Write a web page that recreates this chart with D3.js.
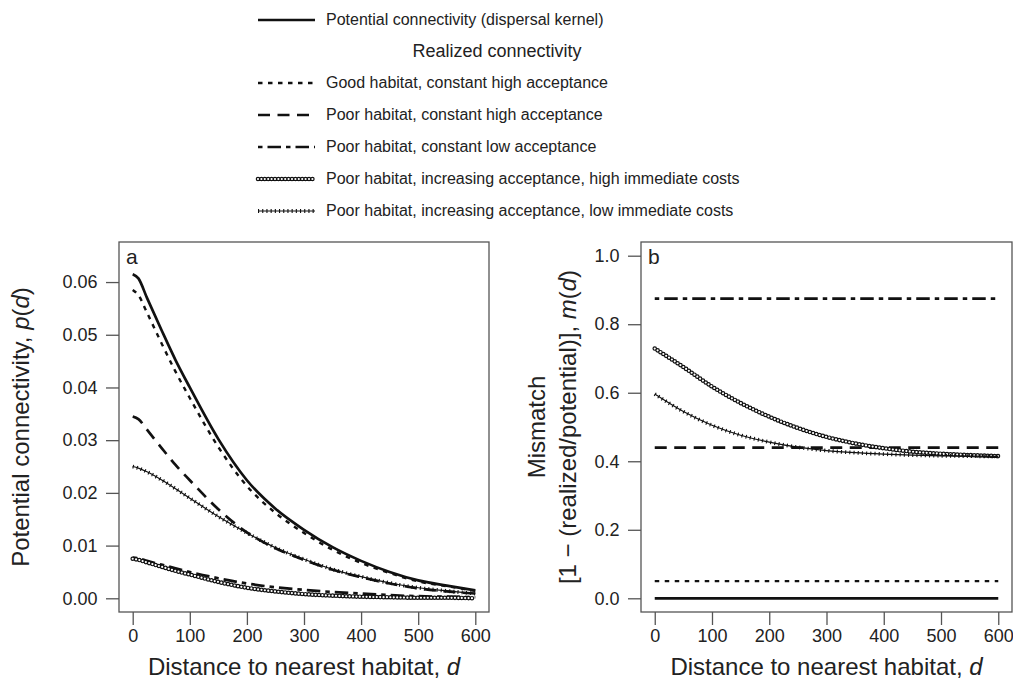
<!DOCTYPE html>
<html>
<head>
<meta charset="utf-8">
<script src="https://cdn.jsdelivr.net/npm/d3@7"></script>
<style>
  body { margin: 0; background: #fff; }
  svg { display: block; font-family: "Liberation Sans", Arial, sans-serif; }
</style>
</head>
<body>
<div id="chart"></div>
<script>
(() => {

// Panel a: connectivity vs distance
const distA = [0, 10, 25, 50, 75, 100, 150, 200, 250, 300, 350, 400, 450, 500, 550, 600];
const potentialA   = [0.0615, 0.0607, 0.0570, 0.0510, 0.0452, 0.0400, 0.0302, 0.0224, 0.0170, 0.0130, 0.0097, 0.0071, 0.0050, 0.0034, 0.0024, 0.0015];
const goodHighA    = [0.0585, 0.0575, 0.0542, 0.0485, 0.0430, 0.0380, 0.0287, 0.0213, 0.0162, 0.0124, 0.0092, 0.0067, 0.0048, 0.0032, 0.0023, 0.0014];
const poorHighA    = [0.0345, 0.0340, 0.0320, 0.0286, 0.0253, 0.0224, 0.0169, 0.0125, 0.0095, 0.0073, 0.0054, 0.0040, 0.0028, 0.0019, 0.0013, 0.0009];
const poorLowA     = [0.0077, 0.0076, 0.0071, 0.0064, 0.0057, 0.0050, 0.0038, 0.0028, 0.0021, 0.0016, 0.0012, 0.0009, 0.0006, 0.0004, 0.0003, 0.0002];
const incHighCostA = [0.0075, 0.0073, 0.0068, 0.0060, 0.0052, 0.0045, 0.0031, 0.0020, 0.0013, 0.0008, 0.0005, 0.0003, 0.0002, 0.0001, 0.0001, 0.0000];
const incLowCostA  = [0.0250, 0.0247, 0.0240, 0.0225, 0.0208, 0.0190, 0.0155, 0.0124, 0.0096, 0.0074, 0.0055, 0.0041, 0.0029, 0.0020, 0.0014, 0.0009];

// Panel b: mismatch vs distance
const distB = [0, 50, 100, 150, 200, 250, 300, 350, 400, 450, 500, 550, 600];
const incHighCostB = [0.729, 0.675, 0.618, 0.570, 0.530, 0.497, 0.471, 0.452, 0.438, 0.428, 0.422, 0.418, 0.415];
const incLowCostB  = [0.596, 0.545, 0.505, 0.476, 0.456, 0.441, 0.431, 0.425, 0.421, 0.418, 0.416, 0.415, 0.414];
const distFlat = [0, 600];
const potentialB = [0, 0];
const goodHighB  = [0.05, 0.05];
const poorHighB  = [0.44, 0.44];
const poorLowB   = [0.875, 0.875];

// ticks
const xTicks = [0, 100, 200, 300, 400, 500, 600];
const yTicksA = [0, 0.01, 0.02, 0.03, 0.04, 0.05, 0.06];
const yTicksB = [0, 0.2, 0.4, 0.6, 0.8, 1.0];

// legend
const legendLabels = [
  "Potential connectivity (dispersal kernel)",
  "Good habitat, constant high acceptance",
  "Poor habitat, constant high acceptance",
  "Poor habitat, constant low acceptance",
  "Poor habitat, increasing acceptance, high immediate costs",
  "Poor habitat, increasing acceptance, low immediate costs"
];
const legendStyles = ["solid", "dotted", "dashed", "dotdash", "rings", "plus"];

const ink = "#111";

const svg = d3.select("#chart")
  .append("svg")
  .attr("width", 1013)
  .attr("height", 681);

// draw one path string in one of the R-like line styles
function drawStyled(g, dstr, style) {
  if (style === "rings") {
    g.append("path").attr("d", dstr).attr("fill", "none")
      .attr("stroke", ink).attr("stroke-width", 4.6)
      .attr("stroke-linecap", "round").attr("stroke-dasharray", "0 3.4");
    g.append("path").attr("d", dstr).attr("fill", "none")
      .attr("stroke", "#fff").attr("stroke-width", 2.2)
      .attr("stroke-linecap", "round").attr("stroke-dasharray", "0 3.4");
    return;
  }
  if (style === "plus") {
    g.append("path").attr("d", dstr).attr("fill", "none")
      .attr("stroke", ink).attr("stroke-width", 1.2);
    g.append("path").attr("d", dstr).attr("fill", "none")
      .attr("stroke", ink).attr("stroke-width", 3.8)
      .attr("stroke-dasharray", "1.1 3.1");
    return;
  }
  const p = g.append("path").attr("d", dstr).attr("fill", "none")
    .attr("stroke", ink).attr("stroke-width", style === "dotted" ? 2.4 : 2.7);
  if (style === "dotted") p.attr("stroke-dasharray", "4.5 5.5");
  if (style === "dashed") p.attr("stroke-dasharray", "12 7.5");
  if (style === "dotdash") p.attr("stroke-dasharray", "4.5 5 13.5 5");
}

function panel(opts) {
  const { x0, x1, y0, y1, xDomain, yDomain, yTicks, yFmt, series, tag } = opts;
  const x = d3.scaleLinear().domain(xDomain).range([x0, x1]);
  const y = d3.scaleLinear().domain(yDomain).range([y1, y0]);
  const g = svg.append("g");

  // curves
  series.forEach(s => {
    const line = d3.line()
      .x((d, i) => x(s.xs[i]))
      .y(d => y(d))
      .curve(d3.curveMonotoneX);
    drawStyled(g, line(s.ys), s.style);
  });

  // box
  g.append("rect")
    .attr("x", x0).attr("y", y0)
    .attr("width", x1 - x0).attr("height", y1 - y0)
    .attr("fill", "none").attr("stroke", "#555").attr("stroke-width", 1.3);

  // axes
  const ax = g.append("g").attr("transform", `translate(0,${y1})`)
    .call(d3.axisBottom(x).tickValues(xTicks).tickSize(13).tickPadding(4).tickFormat(d3.format("d")));
  const ay = g.append("g").attr("transform", `translate(${x0},0)`)
    .call(d3.axisLeft(y).tickValues(yTicks).tickSize(13).tickPadding(8.5).tickFormat(yFmt));
  [ax, ay].forEach(a => {
    a.select(".domain").remove();
    a.selectAll("line").attr("stroke", "#555").attr("stroke-width", 1.3);
    a.selectAll("text").attr("font-size", 18).attr("fill", "#222")
      .attr("font-family", "'Liberation Sans', Arial, sans-serif");
  });

  // panel letter
  g.append("text").attr("x", x0 + 7).attr("y", y0 + 22)
    .attr("font-size", 21).attr("fill", "#222").text(tag);

  // x title
  const xt = g.append("text")
    .attr("x", (x0 + x1) / 2).attr("y", 675)
    .attr("text-anchor", "middle").attr("font-size", 24).attr("fill", "#222");
  xt.append("tspan").text("Distance to nearest habitat, ");
  xt.append("tspan").attr("font-style", "italic").text("d");

  return g;
}

// panel a
panel({
  x0: 119, x1: 489, y0: 242, y1: 612,
  xDomain: [-24, 624], yDomain: [-0.0026, 0.0676],
  yTicks: yTicksA, yFmt: d3.format(".2f"), tag: "a",
  series: [
    { xs: distA, ys: potentialA, style: "solid" },
    { xs: distA, ys: goodHighA, style: "dotted" },
    { xs: distA, ys: poorHighA, style: "dashed" },
    { xs: distA, ys: poorLowA, style: "dotdash" },
    { xs: distA, ys: incHighCostA, style: "rings" },
    { xs: distA, ys: incLowCostA, style: "plus" }
  ]
});

// panel b
panel({
  x0: 641, x1: 1012, y0: 242, y1: 612,
  xDomain: [-24, 624], yDomain: [-0.04, 1.04],
  yTicks: yTicksB, yFmt: d3.format(".1f"), tag: "b",
  series: [
    { xs: distFlat, ys: potentialB, style: "solid" },
    { xs: distFlat, ys: goodHighB, style: "dotted" },
    { xs: distFlat, ys: poorHighB, style: "dashed" },
    { xs: distFlat, ys: poorLowB, style: "dotdash" },
    { xs: distB, ys: incHighCostB, style: "rings" },
    { xs: distB, ys: incLowCostB, style: "plus" }
  ]
});

// y titles
const ytA = svg.append("text")
  .attr("transform", "translate(29,427) rotate(-90)")
  .attr("text-anchor", "middle").attr("font-size", 24).attr("fill", "#222");
ytA.append("tspan").text("Potential connectivity, ");
ytA.append("tspan").attr("font-style", "italic").text("p");
ytA.append("tspan").text("(");
ytA.append("tspan").attr("font-style", "italic").text("d");
ytA.append("tspan").text(")");

svg.append("text")
  .attr("transform", "translate(545,427) rotate(-90)")
  .attr("text-anchor", "middle").attr("font-size", 24).attr("fill", "#222")
  .text("Mismatch");
const ytB = svg.append("text")
  .attr("transform", "translate(576,427) rotate(-90)")
  .attr("text-anchor", "middle").attr("font-size", 24).attr("fill", "#222");
ytB.append("tspan").text("[1 \u2212 (realized/potential)], ");
ytB.append("tspan").attr("font-style", "italic").text("m");
ytB.append("tspan").text("(");
ytB.append("tspan").attr("font-style", "italic").text("d");
ytB.append("tspan").text(")");

// legend
const rowY = [19, 82, 114, 146, 178, 210];
const leg = svg.append("g");
legendLabels.forEach((lab, i) => {
  drawStyled(leg, `M258,${rowY[i] + 1}H315`, legendStyles[i]);
  leg.append("text").attr("x", 326).attr("y", rowY[i] + 5.8)
    .attr("font-size", 16).attr("fill", "#222").text(lab);
});
leg.append("text").attr("x", 497).attr("y", 56.5)
  .attr("text-anchor", "middle").attr("font-size", 18).attr("fill", "#222")
  .text("Realized connectivity");

})();
</script>
</body>
</html>
